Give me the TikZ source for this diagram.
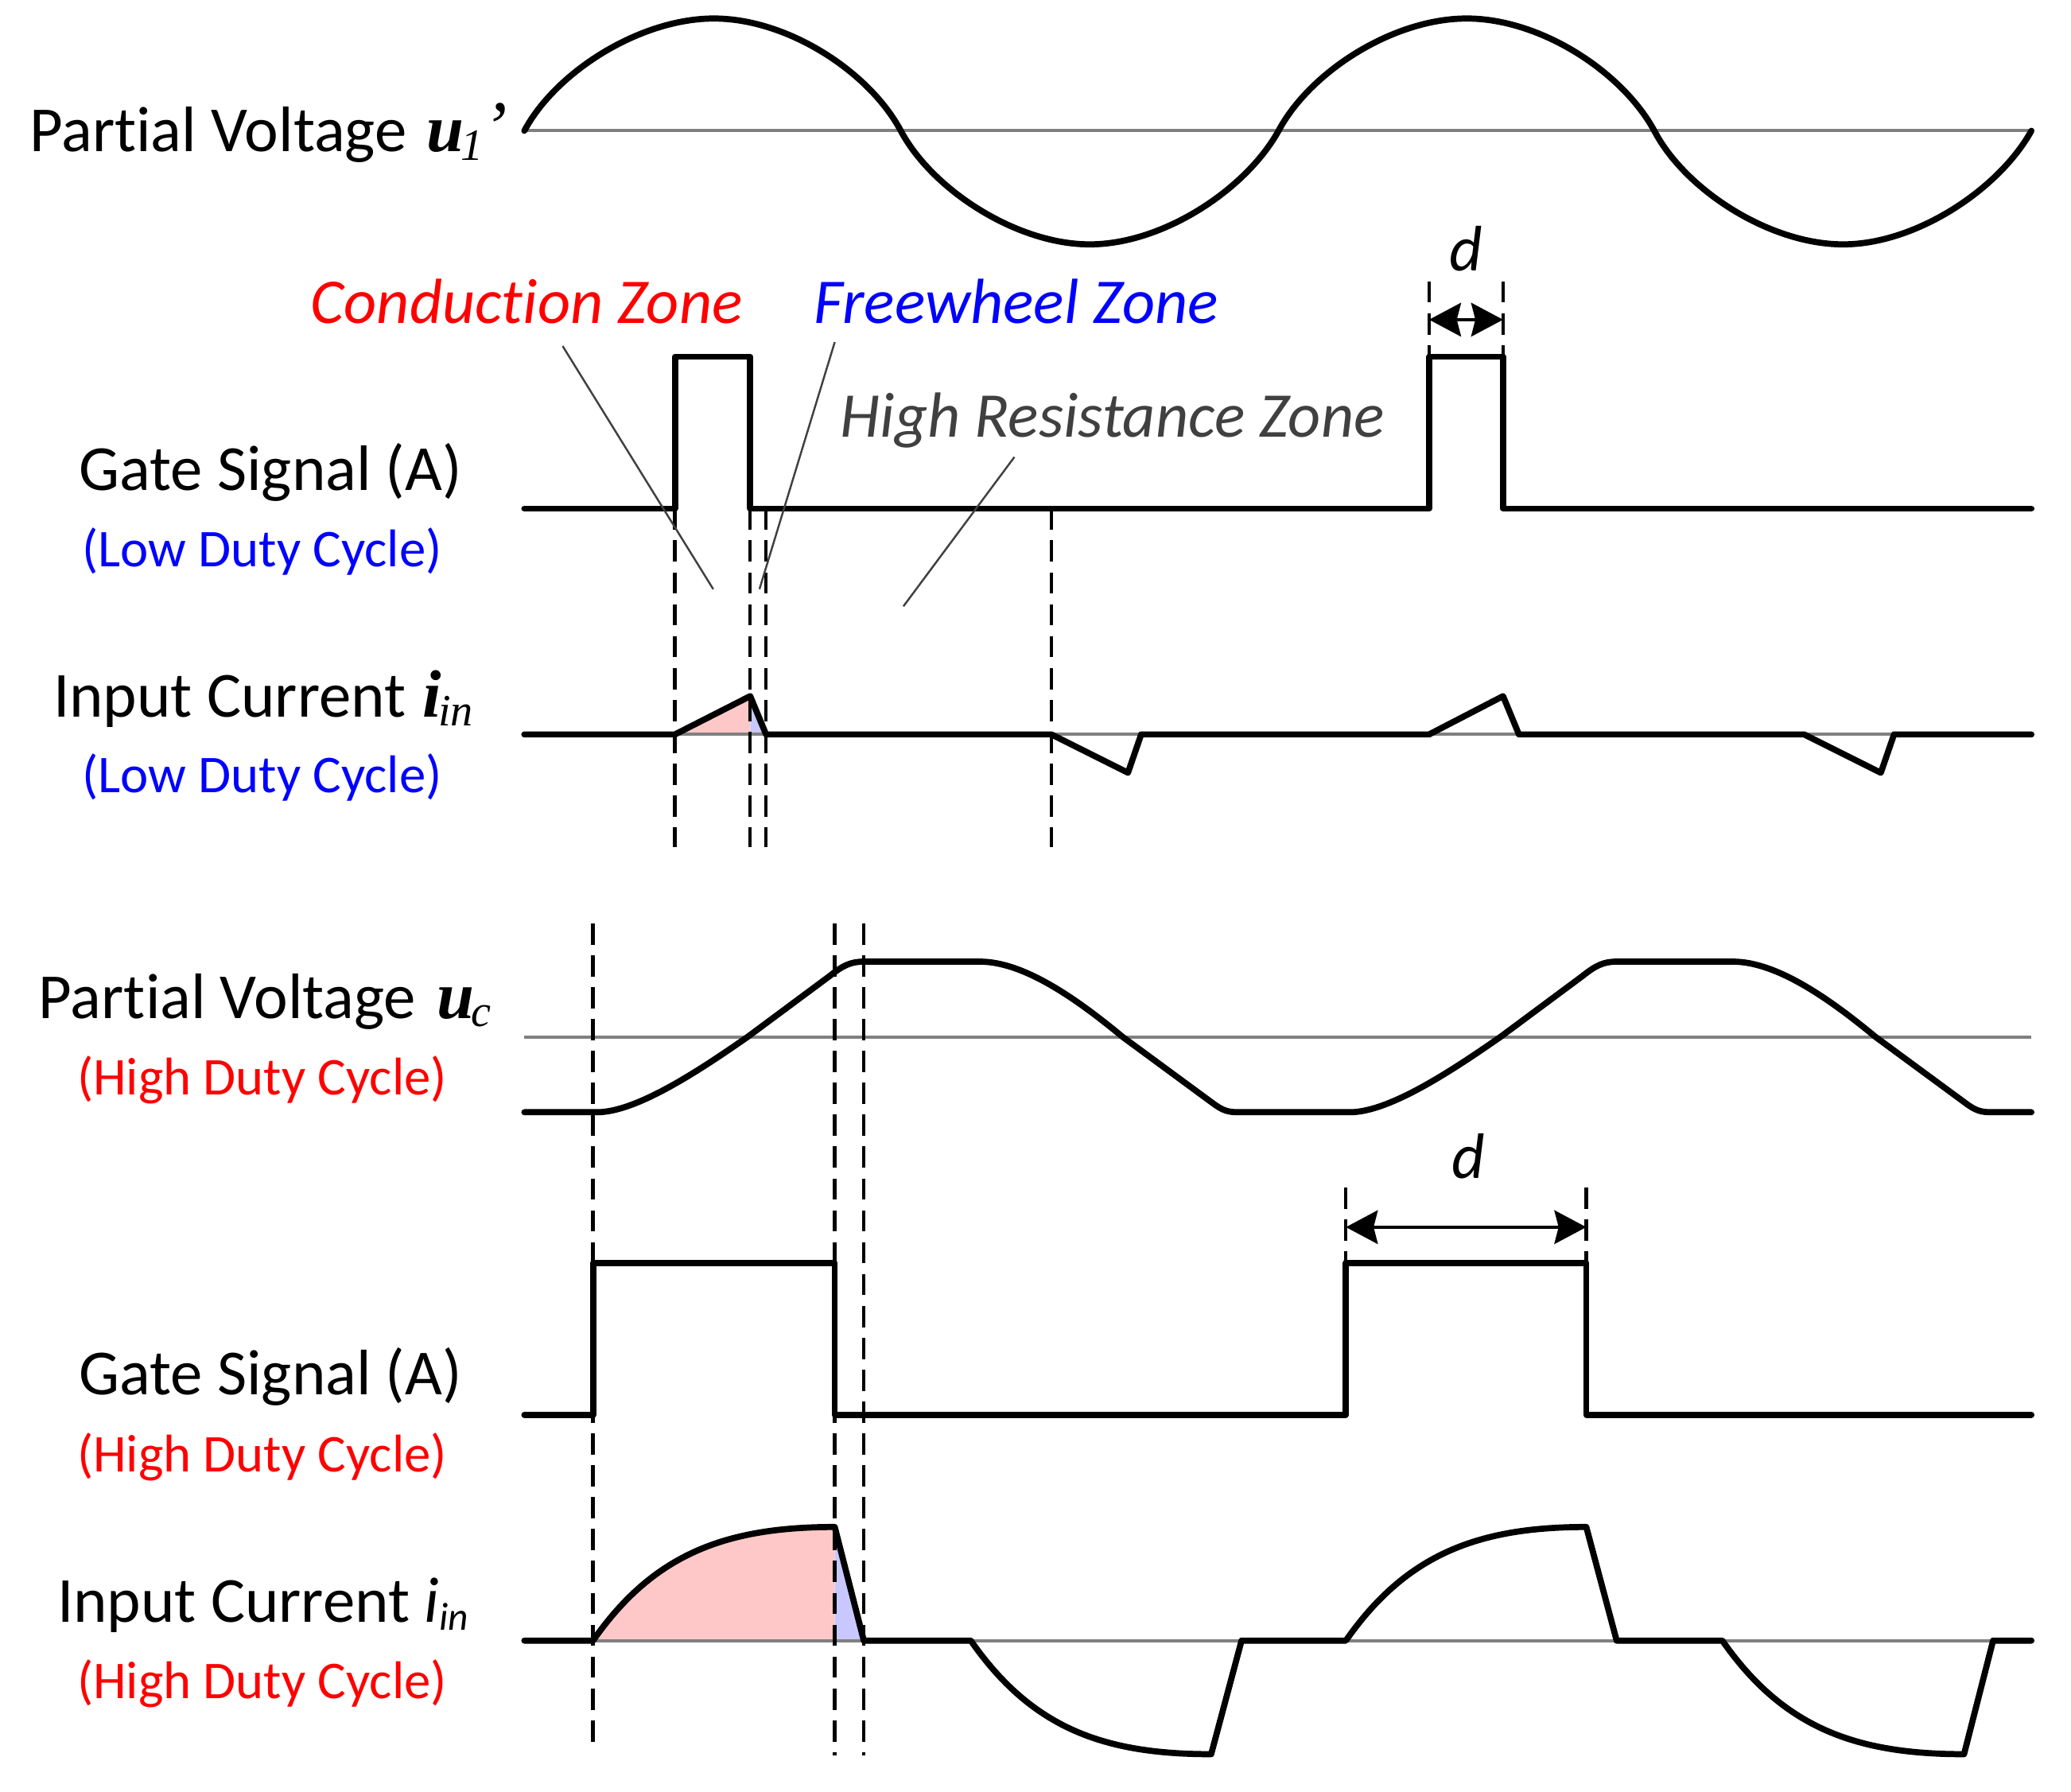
\documentclass[tikz,border=0pt]{standalone}
\usepackage{fontspec}
\setmainfont{Carlito}[Ligatures={NoCommon,NoContextual,NoRequired}]
\newfontfamily\tms{Liberation Serif}
\usetikzlibrary{arrows.meta}
\definecolor{axisgray}{RGB}{128,128,128}
\definecolor{leader}{RGB}{64,64,64}
\definecolor{pinkfill}{RGB}{255,200,200}
\definecolor{bluefill}{RGB}{200,200,255}
\tikzset{
 wave/.style={black,line width=2.2pt,line cap=round,line join=round},
 axis/.style={axisgray,line width=1.15pt},
 guide/.style={black,line width=1.25pt,dash pattern=on 7.6pt off 3.8pt},
 lead/.style={leader,line width=0.7pt},
 dim/.style={black,line width=1.2pt,{Stealth[length=11.4pt,width=12pt,inset=1.5pt]}-{Stealth[length=11.4pt,width=12pt,inset=1.5pt]}},
 lab/.style={anchor=base west,inner sep=0pt,font=\fontsize{23}{23}\selectfont},
 sub/.style={anchor=base west,inner sep=0pt,font=\fontsize{19}{19}\selectfont},
 zone/.style={anchor=base west,inner sep=0pt,font=\fontsize{22.8}{22.8}\selectfont\itshape},
 dlab/.style={anchor=base,inner sep=0pt,font=\fontsize{23}{23}\selectfont\itshape},
}
\newcommand{\bi}[1]{{\tms\bfseries\itshape\fontsize{24}{24}\selectfont #1}}
\newcommand{\si}[1]{\hspace{-1pt}\raisebox{-3pt}{\tms\itshape\fontsize{16}{16}\selectfont #1}}
\newcommand{\ci}[1]{\raisebox{-3pt}{\itshape\fontsize{14}{14}\selectfont #1}}
\begin{document}
\begin{tikzpicture}[x=0.016607cm,y=-0.016607cm]
\useasboundingbox (0,-1) rectangle (1568,1355.6);
% fills
\fill[pinkfill] (511,555) -- (568,526) -- (568,555) -- cycle;
\fill[bluefill] (568,526) -- (580,555) -- (568,555) -- cycle;
\fill[pinkfill] (449,1241) .. controls (495,1175) and (550,1155) .. (632,1155) -- (632,1241) -- cycle;
\fill[bluefill] (632,1155) -- (654,1241) -- (632,1241) -- cycle;
% axes
\draw[axis] (397,98) -- (1538,98);
\draw[axis] (397,555) -- (1538,555);
\draw[axis] (397,784) -- (1538,784);
\draw[axis] (397,1241) -- (1538,1241);
% guides
\foreach \xx in {511,568,580,796} \draw[guide] (\xx,384) -- (\xx,640);
\foreach \xx in {1082,1138} \draw[guide] (\xx,212) -- (\xx,269);
\foreach \xx in {1019,1201} \draw[guide] (\xx,898) -- (\xx,955);
\draw[guide] (449,698) -- (449,1318);
\foreach \xx in {632,654} \draw[guide] (\xx,698) -- (\xx,1328);
% top wave
\draw[wave] (397,98) .. controls (421,53) and (485,13) .. (540.5,13) .. controls (596,13) and (658,53) .. (682,98) .. controls (706,143) and (770,184) .. (825,184) .. controls (880,184) and (943,143) .. (968,98) .. controls (992,53) and (1055,13) .. (1110.5,13) .. controls (1166,13) and (1228,53) .. (1252.5,98) .. controls (1276,143) and (1340,184) .. (1395.5,184) .. controls (1450,184) and (1513,143) .. (1538,98);
% gate low duty
\draw[wave] (397,384) -- (511,384) -- (511,269) -- (568,269) -- (568,384) -- (1082,384) -- (1082,269) -- (1138,269) -- (1138,384) -- (1538,384);
% current low duty
\draw[wave] (397,555) -- (511,555) -- (568,526) -- (580,555) -- (796,555) -- (854,584) -- (864,555) -- (1082,555) -- (1138,526) -- (1150,555) -- (1366,555) -- (1424,584) -- (1434,555) -- (1538,555);
% uc
\draw[wave] (397,841) -- (452,841) .. controls (482,841) and (530,809) .. (566,784) -- (628,738) .. controls (638,730) and (644,727) .. (654,727) -- (742,727) .. controls (775,727) and (815,755) .. (850,784) -- (918,834) .. controls (926,840) and (930,841) .. (938,841) -- (1022,841) .. controls (1052,841) and (1100,809) .. (1136,784) -- (1198,738) .. controls (1208,730) and (1214,727) .. (1224,727) -- (1312,727) .. controls (1345,727) and (1385,755) .. (1420,784) -- (1488,834) .. controls (1496,840) and (1500,841) .. (1508,841) -- (1538,841);
% gate high duty
\draw[wave] (397,1070) -- (449,1070) -- (449,955) -- (632,955) -- (632,1070) -- (1019,1070) -- (1019,955) -- (1201,955) -- (1201,1070) -- (1538,1070);
% current high duty
\draw[wave] (397,1241) -- (449,1241) .. controls (495,1175) and (550,1155) .. (632,1155) -- (654,1241) -- (735,1241) .. controls (781,1307) and (835,1327) .. (917,1327) -- (940,1241) -- (1019,1241) .. controls (1065,1175) and (1120,1155) .. (1201,1155) -- (1224,1241) -- (1304,1241) .. controls (1350,1307) and (1405,1327) .. (1487,1327) -- (1509,1241) -- (1538,1241);
% dimension arrows
\coordinate (da) at (1082,241); \coordinate (db) at (1138,241);
\coordinate (dc) at (1019,928); \coordinate (dd) at (1201,928);
\draw[dim] (da) -- (db);
\draw[dim] (dc) -- (dd);
% leaders
\coordinate (c1) at (426,261); \coordinate (c2) at (540,445);
\coordinate (f1) at (632,258); \coordinate (f2) at (575,445);
\coordinate (h1) at (768,345); \coordinate (h2) at (684,458);
\draw[lead] (c1) -- (c2);
\draw[lead] (f1) -- (f2);
\draw[lead] (h1) -- (h2);
% texts
\node[lab] (t1) at (22,114) {Partial Voltage\hspace{7pt}\bi{u}\si{1}{\tms\itshape\fontsize{26}{26}\selectfont ’}};
\node[zone,text=red] (t2) at (235,244) {Conduction Zone};
\node[zone,text=blue] (t3) at (616,244) {Freewheel Zone};
\node[zone,text=leader] (t4) at (636,330) {High Resistance Zone};
\node[dlab] (t5) at (1110,204) {d};
\node[lab] (t6) at (59.5,370) {Gate Signal (A)};
\node[sub,text=blue] (t7) at (62,428) {(Low Duty Cycle)};
\node[lab] (t8) at (40,542) {Input Current\hspace{6pt}\bi{i}\si{in}};
\node[sub,text=blue] (t9) at (62,599) {(Low Duty Cycle)};
\node[lab] (t10) at (29,770) {Partial Voltage\hspace{7.5pt}\bi{u}\si{c}};
\node[sub,text=red] (t11) at (58,828) {(High Duty Cycle)};
\node[dlab] (t12) at (1112,891) {d};
\node[lab] (t13) at (59.5,1055) {Gate Signal (A)};
\node[sub,text=red] (t14) at (58,1113) {(High Duty Cycle)};
\node[lab] (t15) at (43,1227) {Input Current \textit{i}\ci{in}};
\node[sub,text=red] (t16) at (58,1285) {(High Duty Cycle)};
\end{tikzpicture}
\end{document}
